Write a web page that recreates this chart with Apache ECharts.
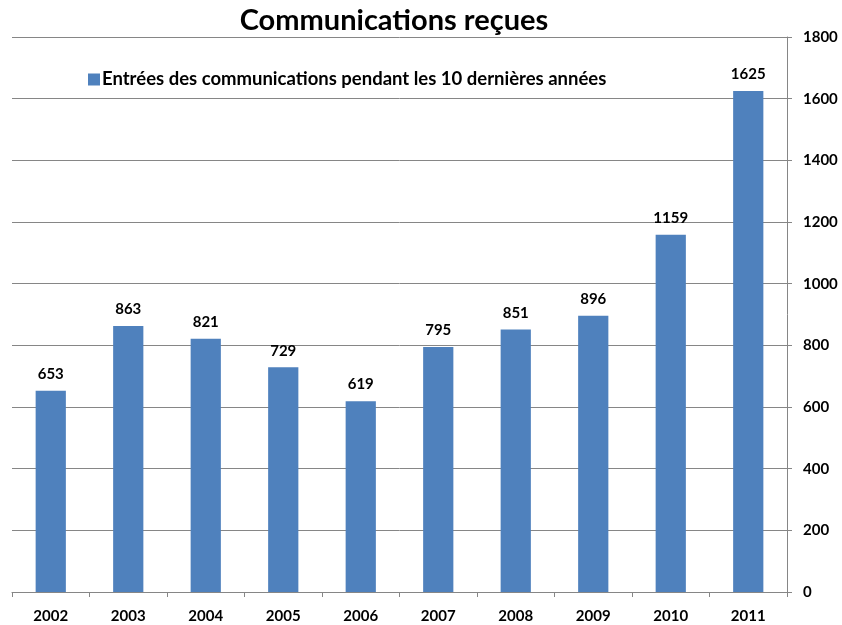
<!DOCTYPE html>
<html>
<head>
<meta charset="utf-8">
<script src="https://cdn.jsdelivr.net/npm/echarts@6/dist/echarts.min.js"></script>
<style>
  html, body { margin: 0; padding: 0; background: #fff; }
  #chart { width: 842px; height: 625px; }
</style>
</head>
<body>
<div id="chart"></div>
<script>
// Yearly incoming communications
const years = ['2002', '2003', '2004', '2005', '2006', '2007', '2008', '2009', '2010', '2011'];
const counts = [653, 863, 821, 729, 619, 795, 851, 896, 1159, 1625];
const seriesName = 'Entrées des communications pendant les 10 dernières années';
const chartTitle = 'Communications reçues';

const FONT = 'Lato, "Open Sans", sans-serif';

const chart = echarts.init(document.getElementById('chart'));
chart.setOption({
  animation: false,
  backgroundColor: '#ffffff',
  title: {
    text: chartTitle,
    left: 389,
    top: 1,
    textAlign: 'center',
    textStyle: { fontFamily: FONT, fontWeight: 'bold', fontSize: 29, color: '#000' }
  },
  legend: {
    left: 83,
    top: 65,
    itemWidth: 12,
    itemHeight: 12,
    itemGap: 4,
    icon: 'rect',
    textStyle: { fontFamily: FONT, fontWeight: 'bold', fontSize: 18.5, color: '#000', padding: [0, 0, 0, -3] },
    data: [seriesName]
  },
  grid: { left: 12, right: 55, top: 37, bottom: 33, containLabel: false },
  xAxis: {
    type: 'category',
    data: years,
    axisLine: { lineStyle: { color: '#868686', width: 1 } },
    axisTick: { show: true, alignWithLabel: false, length: 5, lineStyle: { color: '#868686' } },
    axisLabel: { fontFamily: FONT, fontWeight: 'bold', fontSize: 15, color: '#000', margin: 17 }
  },
  yAxis: {
    type: 'value',
    position: 'right',
    min: 0,
    max: 1800,
    interval: 200,
    axisLine: { show: true, lineStyle: { color: '#868686', width: 1 } },
    axisTick: { show: true, length: 5, lineStyle: { color: '#868686' } },
    axisLabel: {
      fontFamily: FONT, fontWeight: 'bold', fontSize: 15, color: '#000', margin: 16,
      formatter: (v) => String(v)
    },
    splitLine: { show: true, lineStyle: { color: '#868686', width: 1 } }
  },
  series: [{
    name: seriesName,
    type: 'bar',
    data: counts,
    barWidth: '39%',
    itemStyle: { color: '#4F81BD' },
    label: {
      show: true,
      position: 'top',
      distance: 9,
      fontFamily: FONT,
      fontWeight: 'bold',
      fontSize: 15,
      color: '#000'
    }
  }]
});
</script>
</body>
</html>
